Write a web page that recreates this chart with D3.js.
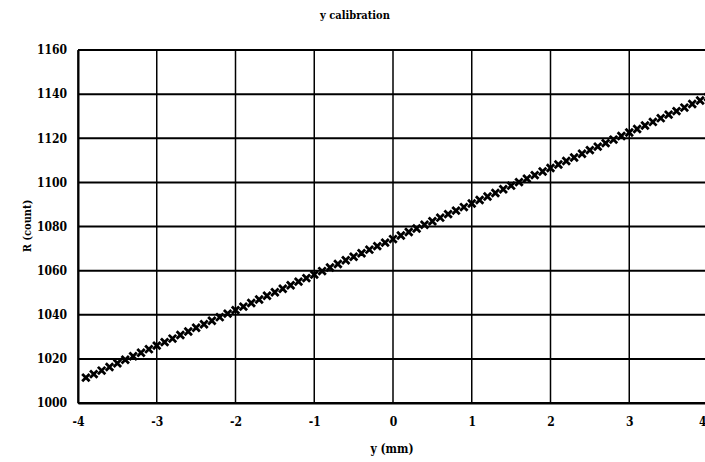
<!DOCTYPE html>
<html>
<head>
<meta charset="utf-8">
<script src="https://cdn.jsdelivr.net/npm/d3@7"></script>
<style>
	body { margin: 0; background: #fff; }
	svg text { font-family: "DejaVu Serif Condensed", "DejaVu Serif", serif !important; font-stretch: condensed; font-weight: bold; fill: #000; }
</style>
</head>
<body>
<div id="chart"></div>
<script>
// positions (mm)
var yPos = [-3.9, -3.8, -3.7, -3.6, -3.5, -3.4, -3.3, -3.2, -3.1, -3.0,
	-2.9, -2.8, -2.7, -2.6, -2.5, -2.4, -2.3, -2.2, -2.1, -2.0,
	-1.9, -1.8, -1.7, -1.6, -1.5, -1.4, -1.3, -1.2, -1.1, -1.0,
	-0.9, -0.8, -0.7, -0.6, -0.5, -0.4, -0.3, -0.2, -0.1, 0.0,
	0.1, 0.2, 0.3, 0.4, 0.5, 0.6, 0.7, 0.8, 0.9, 1.0,
	1.1, 1.2, 1.3, 1.4, 1.5, 1.6, 1.7, 1.8, 1.9, 2.0,
	2.1, 2.2, 2.3, 2.4, 2.5, 2.6, 2.7, 2.8, 2.9, 3.0,
	3.1, 3.2, 3.3, 3.4, 3.5, 3.6, 3.7, 3.8, 3.9, 4.0];

// R counts
var rCount = [1011.5, 1013.1, 1014.7, 1016.3, 1018.0, 1019.6, 1021.2, 1022.8, 1024.4, 1026.0,
	1027.6, 1029.2, 1030.8, 1032.4, 1034.1, 1035.7, 1037.3, 1038.9, 1040.5, 1042.1,
	1043.7, 1045.3, 1046.9, 1048.6, 1050.2, 1051.8, 1053.4, 1055.0, 1056.6, 1058.2,
	1059.8, 1061.4, 1063.0, 1064.7, 1066.3, 1067.9, 1069.5, 1071.1, 1072.7, 1074.3,
	1075.9, 1077.5, 1079.1, 1080.8, 1082.4, 1084.0, 1085.6, 1087.2, 1088.8, 1090.4,
	1092.0, 1093.6, 1095.2, 1096.9, 1098.5, 1100.1, 1101.7, 1103.3, 1104.9, 1106.5,
	1108.1, 1109.7, 1111.3, 1113.0, 1114.6, 1116.2, 1117.8, 1119.4, 1121.0, 1122.6,
	1124.2, 1125.8, 1127.4, 1129.1, 1130.7, 1132.3, 1133.9, 1135.5, 1137.1, 1138.7];

var xTicks = [-4, -3, -2, -1, 0, 1, 2, 3, 4];
var yTicks = [1000, 1020, 1040, 1060, 1080, 1100, 1120, 1140, 1160];

var width = 705;
var height = 462;
var plotLeft = 78, plotRight = 708, plotTop = 50, plotBottom = 403;

var svg = d3.select("#chart").append("svg")
	.attr("width", width)
	.attr("height", height);

var x = d3.scaleLinear().domain([-4, 4]).range([plotLeft, plotRight]);
var y = d3.scaleLinear().domain([1000, 1160]).range([plotBottom, plotTop]);

//grid lines
svg.append("g").selectAll("line")
	.data(yTicks)
	.enter().append("line")
	.attr("x1", plotLeft).attr("x2", plotRight)
	.attr("y1", function(d) { return y(d); })
	.attr("y2", function(d) { return y(d); })
	.style("stroke", "#000")
	.style("stroke-width", 2);

svg.append("g").selectAll("line")
	.data(xTicks)
	.enter().append("line")
	.attr("x1", function(d) { return x(d); })
	.attr("x2", function(d) { return x(d); })
	.attr("y1", plotTop).attr("y2", plotBottom)
	.style("stroke", "#000")
	.style("stroke-width", 1.5);

//axes
var xAxis = svg.append("g")
	.attr("transform", "translate(0," + plotBottom + ")")
	.call(d3.axisBottom(x).tickValues(xTicks).tickSize(0).tickPadding(14).tickFormat(function(d) { return String(d); }));
var yAxis = svg.append("g")
	.attr("transform", "translate(" + plotLeft + ",0)")
	.call(d3.axisLeft(y).tickValues(yTicks).tickSize(0).tickPadding(11).tickFormat(function(d) { return String(d); }));

[xAxis, yAxis].forEach(function(a) {
	a.attr("font-family", null).attr("font-size", null);
	a.select(".domain").style("stroke", "#000").style("stroke-width", 2);
	a.selectAll("text").style("font-size", "12px").style("fill", "#000");
});

// last x label sits on the right edge
xAxis.selectAll(".tick text")
	.filter(function(d) { return d === 4; })
	.attr("text-anchor", "end")
	.attr("dx", "-2");

//markers
var s = 3.7;
svg.append("g").selectAll("path")
	.data(yPos)
	.enter().append("path")
	.attr("d", function(d, i) {
		var cx = x(d), cy = y(rCount[i]);
		return "M" + (cx - s) + "," + (cy - s) + "L" + (cx + s) + "," + (cy + s) +
			"M" + (cx - s) + "," + (cy + s) + "L" + (cx + s) + "," + (cy - s);
	})
	.style("stroke", "#000")
	.style("stroke-width", 2.8)
	.style("fill", "none");

//titles
svg.append("text")
	.attr("x", 355).attr("y", 19)
	.attr("text-anchor", "middle")
	.style("font-size", "11px")
	.text("y calibration");

svg.append("text")
	.attr("x", 392).attr("y", 453)
	.attr("text-anchor", "middle")
	.style("font-size", "12px")
	.text("y (mm)");

svg.append("text")
	.attr("transform", "translate(31,226) rotate(-90)")
	.attr("text-anchor", "middle")
	.style("font-size", "11px")
	.text("R (count)");
</script>
</body>
</html>
